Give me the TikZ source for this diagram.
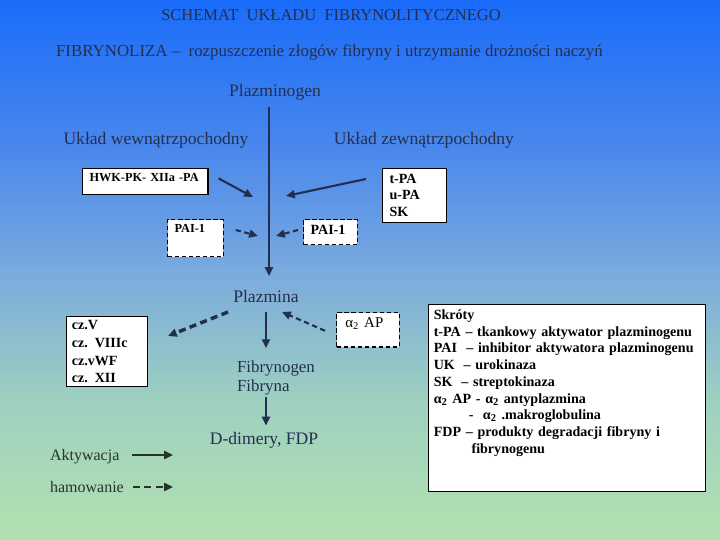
\documentclass[tikz,border=0pt]{standalone}
\usepackage{fontspec}
\setmainfont{Liberation Serif}
\usetikzlibrary{arrows.meta}

\definecolor{bgA}{RGB}{26,108,250}
\definecolor{bgB}{RGB}{74,136,236}
\definecolor{bgC}{RGB}{122,170,222}
\definecolor{bgD}{RGB}{158,208,192}
\definecolor{bgE}{RGB}{178,225,176}
\definecolor{ink}{RGB}{36,46,78}
\definecolor{inkg}{RGB}{38,52,44}

\tikzset{
  lbl/.style={text=ink, inner sep=1pt, font=\fontsize{10}{12}\selectfont},
  box/.style={draw=black, line width=0.6pt, fill=white, anchor=north west, align=left,
    inner xsep=4pt, inner ysep=3pt, font=\bfseries\fontsize{8}{9.6}\selectfont},
  dbox/.style={box, dash pattern=on 2.5pt off 1.5pt},
  act/.style={draw=ink, line width=1.2pt, -{Triangle[length=5pt,width=4.5pt]}},
  inh/.style={act, dash pattern=on 3pt off 2pt},
}

\begin{document}
\begin{tikzpicture}[x=0.02cm,y=0.02cm]
  \useasboundingbox (0,0) rectangle (720,540);
  \shade[top color=bgA, bottom color=bgB] (0,389) rectangle (720,540);
  \shade[top color=bgB, bottom color=bgC] (0,269) rectangle (720,391);
  \shade[top color=bgC, bottom color=bgD] (0,139) rectangle (720,271);
  \shade[top color=bgD, bottom color=bgE] (0,0) rectangle (720,141);

  \node[lbl, font=\fontsize{9.4}{11}\selectfont] (tytul) at (331,525) {SCHEMAT\ \ UKŁADU\ \ FIBRYNOLITYCZNEGO};
  \node[lbl, anchor=west, font=\fontsize{9.6}{11}\selectfont] (def) at (54,488)
    {FIBRYNOLIZA –\ \ rozpuszczenie złogów fibryny i utrzymanie drożności naczyń};
  \node[lbl] (plg) at (275,448) {Plazminogen};
  \node[lbl] (wew) at (156,400) {Układ wewnątrzpochodny};
  \node[lbl] (zew) at (424,400) {Układ zewnątrzpochodny};

  \node[box, text width=63.4pt, text depth=4pt, font=\bfseries\fontsize{7}{8}\selectfont] (hwk) at (82,372) {HWK-PK- XIIa -PA};
  \node[box, text width=28.3pt] (tpa) at (382,372) {t-PA\\u-PA\\SK};
  \node[dbox, text width=23.7pt, text depth=10.5pt, font=\bfseries\fontsize{7}{8}\selectfont] (pail) at (167,321) {PAI-1};
  \node[dbox, text width=22.6pt, text depth=3pt, font=\bfseries\fontsize{8}{9}\selectfont] (pair) at (303,321) {PAI-1};

  \coordinate (os) at (269,264);
  \coordinate (jl) at (253,343);
  \coordinate (jr) at (286,344);
  \coordinate (pl) at (258,304);
  \coordinate (pr) at (276,304);
  \draw[act, shorten <=3pt] (plg.south -| os) -- (os);
  \draw[act] ([shift={(10,3)}]hwk.east) -- (jl);
  \draw[act] ([shift={(-16,-11)}]tpa.north west) -- (jr);
  \draw[inh] ([shift={(12,-11)}]pail.north east) -- (pl);
  \draw[inh] ([shift={(-5,-11)}]pair.north west) -- (pr);

  \node[lbl] (pla) at (266,244) {Plazmina};
  \node[lbl, anchor=west, align=left, font=\fontsize{9.6}{10.8}\selectfont] (fib) at (235,162) {Fibrynogen\\Fibryna};
  \node[lbl] (ddim) at (264,100) {D-dimery, FDP};
  \draw[act, shorten <=4.5pt, shorten >=6pt] (pla.south) -- (pla.south |- fib.north);
  \draw[act, shorten >=2.5pt] (fib.south -| pla.south) -- (ddim.north -| pla.south);

  \node[box, inner xsep=3pt, inner ysep=2pt, text width=39.9pt, font=\bfseries\fontsize{8}{10.2}\selectfont] (cz) at (66,224)
    {cz.V\\cz. VIIIc\\cz.vWF\\cz. XII};
  \coordinate (plcz) at (228,228);
  \coordinate (czk) at (168,204);
  \draw[inh, line width=2pt, dash pattern=on 4pt off 2.5pt] (plcz) -- (czk);

  \node[dbox, inner xsep=5pt, text width=25.7pt, text depth=8pt, font=\fontsize{8.5}{10}\selectfont] (a2ap) at (336,228) {α\textsubscript{2} AP};
  \coordinate (plap) at (282,228);
  \draw[inh] ([shift={(-11,-1)}]a2ap.west) -- (plap);

  \node[box, inner xsep=3pt, text width=151.6pt, text depth=95pt, font=\bfseries\fontsize{8}{9.5}\selectfont] (skroty) at (428,236)
    {Skróty\\
     t-PA – tkankowy aktywator plazminogenu\\
     PAI\ \ – inhibitor aktywatora plazminogenu\\
     UK\hspace{5pt}– urokinaza\\
     SK\hspace{5pt}– streptokinaza\\
     α\textsubscript{2} AP - α\textsubscript{2} antyplazmina\\
     \hspace{20pt}- \ α\textsubscript{2} .makroglobulina\\
     FDP – produkty degradacji fibryny i\\
     \hspace{21.5pt}fibrynogenu};

  \node[lbl, text=inkg, anchor=west, font=\fontsize{9.1}{10}\selectfont] (akt) at (48,83) {Aktywacja};
  \node[lbl, text=inkg, anchor=west, font=\fontsize{9.1}{10}\selectfont] (ham) at (48,53) {hamowanie};
  \coordinate (aktk) at (173,85);
  \coordinate (hamk) at (173,53);
  \draw[act, draw=inkg] ([xshift=6pt]akt.east |- aktk) -- (aktk);
  \draw[inh, draw=inkg, dash pattern=on 4pt off 2.5pt] ([xshift=4pt]ham.east |- hamk) -- (hamk);
\end{tikzpicture}
\end{document}
